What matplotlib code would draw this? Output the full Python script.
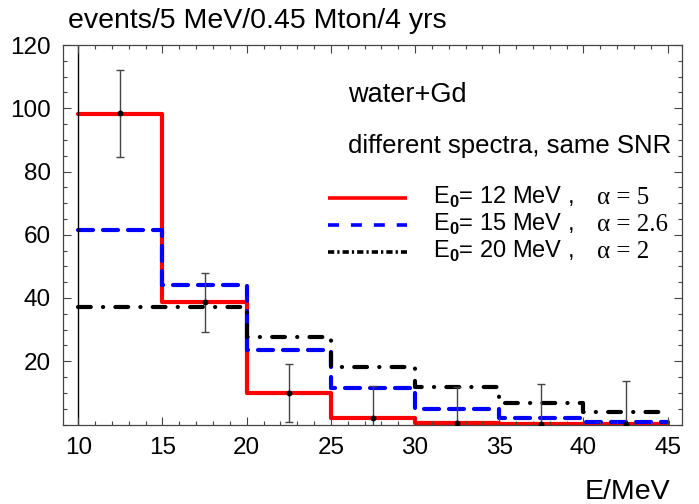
import numpy as np
import matplotlib
matplotlib.use('Agg')
import matplotlib.pyplot as plt
from matplotlib.lines import Line2D

plt.rcParams['font.family'] = ['Liberation Sans', 'DejaVu Sans']
plt.rcParams['mathtext.fontset'] = 'custom'
plt.rcParams['mathtext.rm'] = 'Liberation Sans'
plt.rcParams['mathtext.bf'] = 'Liberation Sans:bold'
plt.rcParams['lines.scale_dashes'] = False

# bin edges (MeV) and expected events per bin
edges = [10, 15, 20, 25, 30, 35, 40, 45]
red_12 = [98.3, 38.6, 10.0, 2.0, 0.6, 0.2, 0.1]
blue_15 = [61.4, 44.2, 23.6, 11.5, 4.9, 2.0, 0.7]
black_20 = [37.3, 37.3, 27.6, 18.1, 11.8, 6.9, 3.9]

# "data" points with error bars at bin centres
centers = [12.5, 17.5, 22.5, 27.5, 32.5, 37.5, 42.5]
points = [98.4, 38.6, 10.0, 2.0, 0.6, 0.2, 0.1]
errs = [13.8, 9.2, 9.2, 10.2, 11.2, 12.6, 13.6]

labels = ['= 12 MeV ,', '= 15 MeV ,', '= 20 MeV ,']
alphas = ['\u03b1 = 5', '\u03b1 = 2.6', '\u03b1 = 2']

W, H = 699, 504
fig = plt.figure(figsize=(W / 100, H / 100), dpi=100)
ax = fig.add_axes([63.3 / W, 1 - 424.5 / H, (682 - 63.3) / W, (424.5 - 45) / H])

lw = 3.0
red_style = dict(color='#ff0000', lw=lw, ls='-')
blue_style = dict(color='#0000ff', lw=lw, ls=(0, (10.8, 7.2)))
black_style = dict(color='black', lw=lw, ls=(0, (9.2, 8.8, 0.1, 8.8)))

for vals, st in [(red_12, red_style), (blue_15, blue_style), (black_20, black_style)]:
    p = ax.stairs(vals, edges, baseline=None, fill=False, **st)
    p.set_capstyle('round')
    p.set_joinstyle('round')

ax.axvline(10, color='black', lw=1.0, zorder=1)

ax.errorbar(centers, points, yerr=errs, fmt='o', ms=3.2, mfc='black', mec='black',
            ecolor='#444444', elinewidth=1.0, capsize=3, capthick=1.0, zorder=5)

ax.set_xlim(9.11, 45.85)
ax.set_ylim(0, 120)
ax.set_xticks(np.arange(10, 46, 5))
ax.set_xticks(np.arange(10, 46, 1), minor=True)
ax.set_yticks(np.arange(20, 121, 20))
ax.set_yticks(np.arange(0, 121, 5), minor=True)
ax.tick_params(which='both', direction='in', top=True, right=True, color='#444444', width=0.8)
ax.tick_params(which='major', length=6, labelsize=17.5)
ax.tick_params(which='minor', length=3)
ax.tick_params(axis='y', pad=9)
ax.tick_params(axis='x', pad=9)
for s in ax.spines.values():
    s.set_color('#444444')
    s.set_linewidth(0.9)

def fx(x):
    return x / W

def fy(y):
    return 1 - y / H

fig.text(fx(68), fy(28), 'events/5 MeV/0.45 Mton/4 yrs', fontsize=20.5, va='baseline')
fig.text(fx(585), fy(499), 'E/MeV', fontsize=20.5, va='baseline')
fig.text(fx(348), fy(102), 'water+Gd', fontsize=19.5, va='baseline')
fig.text(fx(348), fy(153), 'different spectra, same SNR', fontsize=18.5, va='baseline')

# legend drawn by hand
leg_y = [198, 225, 252]
leg_styles = [dict(color='#ff0000', lw=2.6, ls='-'),
              dict(color='#0000ff', lw=2.6, ls=(0, (7.9, 8.6))),
              dict(color='black', lw=2.6, ls=(0, (4.5, 2.2, 1.6, 2.2)))]
for y, st, lab, al in zip(leg_y, leg_styles, labels, alphas):
    fig.add_artist(Line2D([fx(328), fx(407)], [fy(y), fy(y)], transform=fig.transFigure,
                          solid_capstyle='butt', dash_capstyle='butt', **st))
    fig.text(fx(433), fy(y + 6), r'E$_{\mathbf{0}}$' + lab, fontsize=17, va='baseline')
    fig.text(fx(597), fy(y + 6), al, fontsize=18, va='baseline', family='Liberation Serif')

fig.savefig('out.png', dpi=100)
